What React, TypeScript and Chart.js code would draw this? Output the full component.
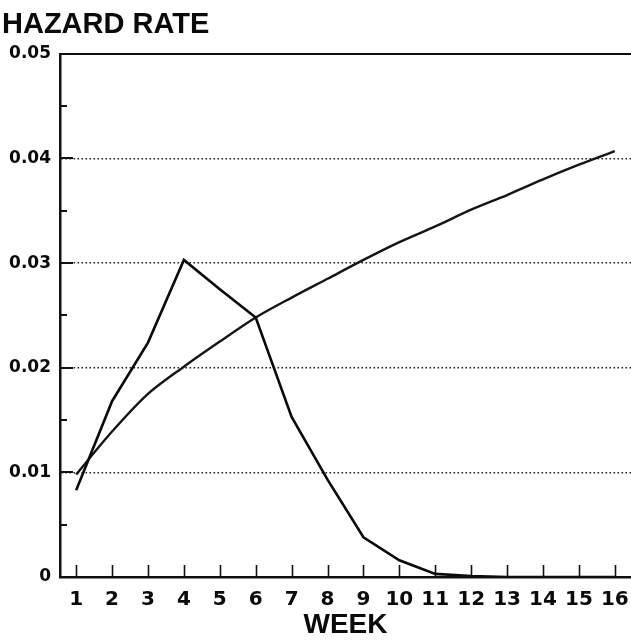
import React, { useEffect, useRef } from 'react';
import { Chart, registerables } from 'chart.js';

Chart.register(...registerables);

const chartTitle = 'HAZARD RATE';
const xTitle = 'WEEK';
const weeks = [1, 2, 3, 4, 5, 6, 7, 8, 9, 10, 11, 12, 13, 14, 15, 16];
const hazardPeaked = [0.0083, 0.0168, 0.0224, 0.0303, 0.0275, 0.0248, 0.0153, 0.0093, 0.0038, 0.0016, 0.0003, 0.0001, 0, 0, 0, 0];
const hazardRising = [0.0098, 0.0139, 0.0175, 0.0201, 0.0225, 0.0248, 0.0267, 0.0285, 0.0303, 0.032, 0.0335, 0.0351, 0.0365, 0.038, 0.0394, 0.0407];
const yMajorTicks = [0, 0.01, 0.02, 0.03, 0.04, 0.05];
const yMinorTicks = [0.005, 0.015, 0.025, 0.035, 0.045];

const FONT = '"Liberation Sans", Arial, Helvetica, sans-serif';
const TICK_FONT = '"DejaVu Sans", "Liberation Sans", Arial, sans-serif';

const innerTicks = {
  id: 'innerTicks',
  afterDraw(chart: any) {
    const { ctx, chartArea, scales } = chart;
    const xs = scales.x;
    const ys = scales.y;
    ctx.save();
    ctx.strokeStyle = '#111';
    // top frame line
    ctx.lineWidth = 2.2;
    const yTop = Math.round(ys.getPixelForValue(0.05));
    ctx.beginPath();
    ctx.moveTo(chartArea.left - 1, yTop);
    ctx.lineTo(chartArea.right, yTop);
    ctx.stroke();
    // x ticks pointing up
    ctx.lineWidth = 1.6;
    weeks.forEach((w) => {
      const px = Math.round(xs.getPixelForValue(w)) + 0.5;
      ctx.beginPath();
      ctx.moveTo(px, chartArea.bottom);
      ctx.lineTo(px, chartArea.bottom - 12);
      ctx.stroke();
    });
    // y major ticks
    ctx.lineWidth = 2;
    yMajorTicks.slice(1, -1).forEach((v) => {
      const py = Math.round(ys.getPixelForValue(v));
      ctx.beginPath();
      ctx.moveTo(chartArea.left, py);
      ctx.lineTo(chartArea.left + 13, py);
      ctx.stroke();
    });
    yMinorTicks.forEach((v) => {
      const py = Math.round(ys.getPixelForValue(v));
      ctx.beginPath();
      ctx.moveTo(chartArea.left, py);
      ctx.lineTo(chartArea.left + 7, py);
      ctx.stroke();
    });
    ctx.restore();
  },
};

export default function App() {
  const ref = useRef<HTMLCanvasElement | null>(null);

  useEffect(() => {
    const canvas = ref.current;
    if (!canvas) return;
    const chart = new Chart(canvas, {
      type: 'line',
      data: {
        datasets: [
          {
            label: 'peaked',
            data: weeks.map((w, i) => ({ x: w, y: hazardPeaked[i] })),
            borderColor: '#0a0a0a',
            borderWidth: 2.6,
            pointRadius: 0,
            tension: 0,
            fill: false,
          },
          {
            label: 'rising',
            data: weeks.map((w, i) => ({ x: w, y: hazardRising[i] })),
            borderColor: '#151515',
            borderWidth: 2.4,
            pointRadius: 0,
            tension: 0.3,
            fill: false,
          },
        ],
      },
      options: {
        animation: false,
        responsive: false,
        layout: { padding: { left: 2, right: 0, top: 0, bottom: 0 } },
        plugins: {
          legend: { display: false },
          tooltip: { enabled: false },
          title: {
            display: true,
            text: chartTitle,
            align: 'start',
            color: '#0a0a0a',
            font: { family: FONT, size: 29, weight: 'bold' },
            padding: { top: 8, bottom: 11 },
          },
        },
        scales: {
          x: {
            type: 'linear',
            min: 0.55,
            max: 16.45,
            afterBuildTicks: (s: any) => {
              s.ticks = weeks.map((v) => ({ value: v }));
            },
            afterFit: (s: any) => {
              s.height = 65;
              s.paddingLeft = 0;
              s.paddingRight = 0;
            },
            grid: { display: false, drawTicks: false },
            border: { display: true, color: '#111', width: 2.5 },
            ticks: {
              autoSkip: false,
              maxRotation: 0,
              padding: 11,
              color: '#0a0a0a',
              font: { family: TICK_FONT, size: 20, weight: 'bold' },
              callback: (v: any) => String(v),
            },
            title: {
              display: true,
              text: xTitle,
              color: '#0a0a0a',
              font: { family: FONT, size: 28, weight: 'bold' },
              padding: { top: 7, bottom: 0 },
            },
          },
          y: {
            type: 'linear',
            min: 0,
            max: 0.05,
            afterBuildTicks: (s: any) => {
              s.ticks = yMajorTicks.map((v) => ({ value: v }));
            },
            afterFit: (s: any) => {
              s.width = 58;
            },
            grid: {
              display: true,
              drawTicks: false,
              lineWidth: 1.6,
              color: (c: any) =>
                c.tick && (c.tick.value === 0 || c.tick.value === 0.05) ? 'rgba(0,0,0,0)' : '#222',
            },
            border: { display: true, color: '#111', width: 2.5, dash: [1.6, 2.4] },
            ticks: {
              autoSkip: false,
              padding: 9,
              color: '#0a0a0a',
              font: { family: TICK_FONT, size: 17, weight: 'bold' },
              callback: (v: any) => (v === 0 ? '0' : Number(v).toFixed(2)),
            },
          },
        },
      },
      plugins: [innerTicks],
    });
    return () => chart.destroy();
  }, []);

  return (
    <div style={{ position: 'absolute', left: 0, top: 0, width: 631, height: 642, background: '#fff' }}>
      <canvas ref={ref} width={631} height={642} style={{ display: 'block' }} />
    </div>
  );
}
